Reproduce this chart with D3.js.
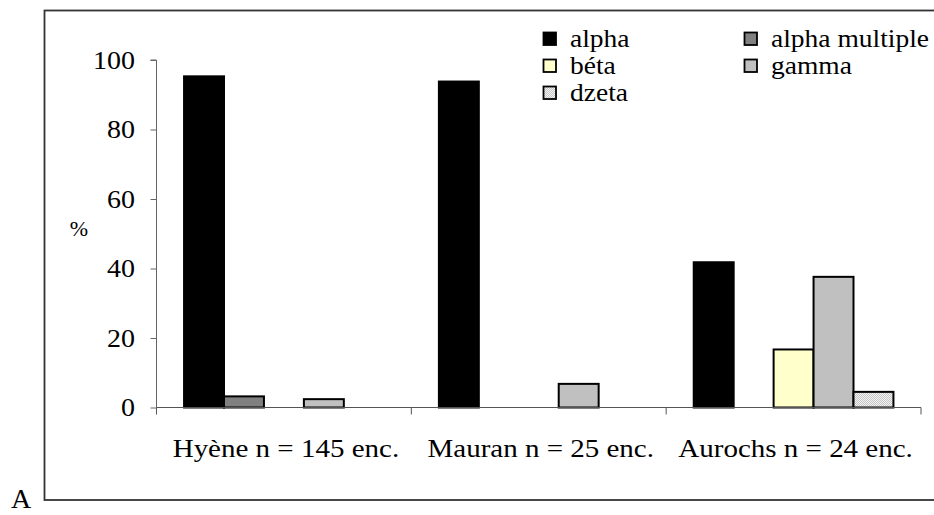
<!DOCTYPE html>
<html>
<head>
<meta charset="utf-8">
<script src="https://cdn.jsdelivr.net/npm/d3@7/dist/d3.min.js"></script>
<style>
  html, body { margin: 0; padding: 0; background: #fff; }
  svg { display: block; }
  text { font-family: "Liberation Serif", "Times New Roman", serif; fill: #000; }
</style>
</head>
<body>
<svg id="chart" width="934" height="515"></svg>
<script>
// ---- data ----
const categories = ["Hyène n = 145 enc.", "Mauran n = 25 enc.", "Aurochs n = 24 enc."];
const seriesNames = ["alpha", "alpha multiple", "béta", "gamma", "dzeta"];
const alpha = [95.3, 93.8, 41.8];
const alphaMultiple = [3.2, 0, 0];
const beta = [0, 0, 16.7];
const gamma = [2.4, 6.8, 37.6];
const dzeta = [0, 0, 4.5];
const yTicks = [0, 20, 40, 60, 80, 100];
const yLabel = "%";
const panelLetter = "A";

(function () {
const FONT = "'Liberation Serif', 'Times New Roman', serif";
const seriesValues = [alpha, alphaMultiple, beta, gamma, dzeta];
const seriesFill = ["#000000", "#808080", "#FFFFCC", "#C0C0C0", "url(#dots)"];

const svg = d3.select("#chart");

// pattern for dzeta
const defs = svg.append("defs");
const pat = defs.append("pattern").attr("id", "dots").attr("patternUnits", "userSpaceOnUse")
  .attr("width", 2).attr("height", 2);
pat.append("rect").attr("width", 2).attr("height", 2).attr("fill", "#f4f4f4");
pat.append("rect").attr("width", 1).attr("height", 1).attr("fill", "#c4c4c4");
pat.append("rect").attr("x", 1).attr("y", 1).attr("width", 1).attr("height", 1).attr("fill", "#c4c4c4");

// outer frame
svg.append("rect").attr("x", 44.5).attr("y", 10.5).attr("width", 920).attr("height", 489.5)
  .attr("fill", "none").attr("stroke", "#333").attr("stroke-width", 1.8);

const pLeft = 156.5, pRight = 921, pTop = 60, pBottom = 407.5;

const x0 = d3.scaleBand().domain(categories).range([pLeft, pRight]).paddingInner(0).paddingOuter(0);
const x1 = d3.scaleBand().domain(seriesNames).range([0, x0.bandwidth()]).paddingInner(0).paddingOuter(0.69);
const y = d3.scaleLinear().domain([0, 100]).range([pBottom, pTop]);

// helper: horizontally widened serif text (emulates the wider Garamond-like face)
function wideText(parent, x, yy, str, size, sx, anchor) {
  const g = parent.append("g").attr("transform", `translate(${x},${yy}) scale(${sx},1)`);
  return g.append("text").attr("x", 0).attr("y", 0)
    .attr("text-anchor", anchor || "start")
    .style("font-family", FONT).style("font-size", size + "px")
    .attr("fill", "#000").text(str);
}

// y axis
const yAxis = svg.append("g").attr("transform", `translate(${pLeft},0)`)
  .call(d3.axisLeft(y).tickValues(yTicks).tickSize(6).tickFormat(""));
yAxis.select(".domain").attr("stroke", "#666").attr("d", `M-6,${pTop}H0V${pBottom}`);
yAxis.selectAll(".tick line").attr("stroke", "#666");
const yLab = svg.append("g");
yTicks.forEach(t => wideText(yLab, 135, y(t) + 8.5, d3.format("d")(t), 25, 1.12, "end"));

// bars
seriesNames.forEach((s, si) => {
  const vals = seriesValues[si];
  svg.append("g").selectAll("rect")
    .data(categories.map((c, ci) => ({ c, v: vals[ci] })).filter(d => d.v > 0))
    .join("rect")
    .attr("x", d => x0(d.c) + x1(s))
    .attr("y", d => y(d.v))
    .attr("width", x1.bandwidth())
    .attr("height", d => y(0) - y(d.v))
    .attr("fill", seriesFill[si])
    .attr("stroke", "#000")
    .attr("stroke-width", 2);
});

// x axis
const xAxis = svg.append("g").attr("transform", `translate(0,${pBottom})`)
  .call(d3.axisBottom(x0).tickSize(0).tickPadding(0).tickFormat(""));
xAxis.select(".domain").attr("stroke", "#555").attr("d", `M${pLeft},0H${pRight}`);
const tickPos = [pLeft, ...categories.map(c => x0(c) + x0.bandwidth())];
svg.append("g").selectAll("line").data(tickPos).join("line")
  .attr("x1", d => d).attr("x2", d => d).attr("y1", pBottom).attr("y2", pBottom + 7)
  .attr("stroke", "#555");
const xLab = svg.append("g");
categories.forEach(c => wideText(xLab, x0(c) + x0.bandwidth() / 2 + 2, 457, c, 25, 1.16, "middle"));

// y label
svg.append("text").attr("x", 79).attr("y", 236).attr("text-anchor", "middle")
  .style("font-family", FONT).style("font-size", "22px").text(yLabel);

// panel letter
svg.append("text").attr("x", 11).attr("y", 508).style("font-family", FONT)
  .style("font-size", "28px").text(panelLetter);

// legend
const legCols = [543, 744];
const legRows = [32, 59, 86];
const legend = svg.append("g");
seriesNames.forEach((s, i) => {
  const col = i % 2, row = Math.floor(i / 2);
  const g = legend.append("g").attr("transform", `translate(${legCols[col]},${legRows[row]})`);
  g.append("rect").attr("x", 0.5).attr("y", 0.5).attr("width", 12.5).attr("height", 12.5)
    .attr("fill", seriesFill[i]).attr("stroke", "#000").attr("stroke-width", 1.8);
  wideText(g, 27, 14.5, s, 25, 1.1, "start");
});
})();
</script>
</body>
</html>
